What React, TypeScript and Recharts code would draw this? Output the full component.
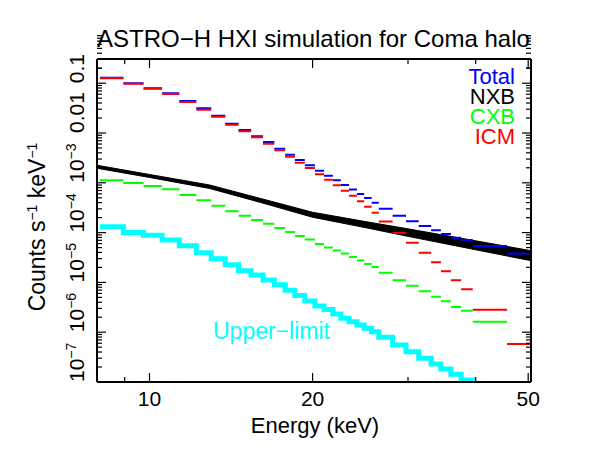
import { Area, ComposedChart, Customized, Line, XAxis, YAxis } from "recharts";

const FONT = "'Liberation Sans', Arial, Helvetica, sans-serif";

// bin edges (keV), shared by Total / ICM / CXB / upper-limit
const binEdges = [
  8.1, 8.95, 9.75, 10.55, 11.35, 12.2, 13.0, 13.8, 14.6, 15.4, 16.2, 17.0, 17.8, 18.55, 19.35, 20.2, 21.0,
  21.8, 22.55, 23.35, 24.15, 24.9, 25.7, 26.5, 28.1, 29.75, 31.4, 33.1, 34.5, 36.0, 37.6, 39.5, 45.7, 51,
];

const totalValues = [
  0.128, 0.1, 0.0795, 0.0625, 0.044, 0.0313, 0.0222, 0.0154, 0.0115, 0.0086, 0.0066, 0.00484, 0.00367,
  0.00287, 0.00224, 0.00175, 0.00139, 0.00112, 9.0e-4, 7.3e-4, 5.96e-4, 4.95e-4, 3.98e-4, 3.02e-4, 2.18e-4,
  1.69e-4, 1.36e-4, 1.11e-4, 9.4e-5, 7.9e-5, 7.1e-5, 5.4e-5, 3.8e-5,
];

const icmValues = [
  0.125, 0.0977, 0.0777, 0.0607, 0.0419, 0.0294, 0.0212, 0.0147, 0.0108, 0.0082, 0.0061, 0.0045, 0.00334,
  0.00254, 0.00198, 0.00148, 0.00115, 8.95e-4, 6.93e-4, 5.51e-4, 4.25e-4, 3.3e-4, 2.51e-4, 1.67e-4, 9.9e-5,
  6.27e-5, 3.94e-5, 2.55e-5, 1.67e-5, 1.1e-5, 7.26e-6, 2.83e-6, 5.8e-7,
];

const cxbValues = [
  1.12e-3, 9.9e-4, 8.63e-4, 7.41e-4, 5.69e-4, 4.45e-4, 3.47e-4, 2.68e-4, 2.18e-4, 1.79e-4, 1.5e-4, 1.24e-4,
  1.03e-4, 8.55e-5, 7.27e-5, 5.9e-5, 5.02e-5, 4.37e-5, 3.8e-5, 3.24e-5, 2.75e-5, 2.34e-5, 2.04e-5, 1.57e-5,
  1.1e-5, 8.55e-6, 6.65e-6, 5.16e-6, 4.19e-6, 3.21e-6, 2.7e-6, 1.62e-6,
];

const upperValues = [
  1.31e-4, 1.01e-4, 8.83e-5, 7.1e-5, 5.46e-5, 3.94e-5, 2.99e-5, 2.26e-5, 1.72e-5, 1.41e-5, 1.12e-5, 9.0e-6,
  6.93e-6, 5.46e-6, 4.24e-6, 3.36e-6, 2.86e-6, 2.32e-6, 1.9e-6, 1.63e-6, 1.4e-6, 1.2e-6, 1.02e-6, 7.91e-7,
  5.53e-7, 4.06e-7, 2.99e-7, 2.3e-7, 1.82e-7, 1.43e-7, 1.1e-7, 6e-8,
];

// NXB drawn as a band (thickness = spread of the model)
const nxbEnergy = [8.0, 10, 12.9, 16, 20, 25, 30, 40, 50.6];
const nxbLow = [1.96e-3, 1.28e-3, 7.71e-4, 4.05e-4, 2.03e-4, 1.26e-4, 8.4e-5, 4.52e-5, 2.73e-5];
const nxbHigh = [2.25e-3, 1.47e-3, 9.06e-4, 4.87e-4, 2.56e-4, 1.67e-4, 1.19e-4, 6.84e-5, 4.33e-5];

const xTicks = [9, 10, 20, 30, 40, 50];
const xLabelled = [10, 20, 50];
const yDecades = [-7, -6, -5, -4, -3, -2, -1];
const yTicks = yDecades
  .flatMap((n) => [1, 2, 3, 4, 5, 6, 7, 8, 9].map((k) => k * Math.pow(10, n)))
  .concat([0.2]);

const legend = [
  { name: "Total", color: "#0000ff" },
  { name: "NXB", color: "#000000" },
  { name: "CXB", color: "#00ff00" },
  { name: "ICM", color: "#ff0000" },
];

const binSegments = (values: number[]) =>
  values.flatMap((v, i) => [
    { x: binEdges[i], y: v },
    { x: binEdges[i + 1], y: v },
    { x: binEdges[i + 1], y: null },
  ]);

const upperStep = upperValues
  .map((v, i) => ({ x: binEdges[i], y: v }))
  .concat([{ x: binEdges[upperValues.length], y: upperValues[upperValues.length - 1] }]);

const nxbBand = nxbEnergy.map((e, i) => ({ x: e, band: [nxbLow[i], nxbHigh[i]] }));

const isDecade = (v: number) => Math.abs(Math.log10(v) - Math.round(Math.log10(v))) < 1e-6;

const tickText = { fontFamily: FONT, fontSize: 21, fill: "#000" };

function BottomTick({ x, y, payload }: any) {
  const major = xLabelled.includes(payload.value);
  return (
    <g>
      <line x1={x} x2={x} y1={y} y2={y - (major ? 9 : 5)} stroke="#000" strokeWidth={1.2} />
      {major && (
        <text x={x} y={y + 24} textAnchor="middle" {...tickText}>
          {payload.value}
        </text>
      )}
    </g>
  );
}

function TopTick({ x, y, payload }: any) {
  const major = xLabelled.includes(payload.value);
  return <line x1={x} x2={x} y1={y} y2={y + (major ? 9 : 5)} stroke="#000" strokeWidth={1.2} />;
}

function yLabel(v: number) {
  const n = Math.round(Math.log10(v));
  if (n === -1) return <tspan>0.1</tspan>;
  if (n === -2) return <tspan>0.01</tspan>;
  return (
    <>
      <tspan>10</tspan>
      <tspan dy={-8} fontSize={14}>
        {"\u2212" + Math.abs(n)}
      </tspan>
    </>
  );
}

function LeftTick({ x, y, payload }: any) {
  const major = isDecade(payload.value);
  const lx = x - 13;
  return (
    <g>
      <line x1={x} x2={x + (major ? 9 : 5)} y1={y} y2={y} stroke="#000" strokeWidth={1.2} />
      {major && (
        <text x={lx} y={y} transform={`rotate(-90, ${lx}, ${y})`} textAnchor="start" {...tickText}>
          {yLabel(payload.value)}
        </text>
      )}
    </g>
  );
}

function RightTick({ x, y, payload }: any) {
  const major = isDecade(payload.value);
  return <line x1={x} x2={x - (major ? 9 : 5)} y1={y} y2={y} stroke="#000" strokeWidth={1.2} />;
}

function Texts() {
  return (
    <g fontFamily={FONT}>
      <text x={97} y={47} fontSize={24} fill="#000">
        ASTRO−H HXI simulation for Coma halo
      </text>
      {legend.map((l, i) => (
        <text key={l.name} x={515} y={83.5 + i * 20.3} fontSize={22} fill={l.color} textAnchor="end">
          {l.name}
        </text>
      ))}
      <text x={213} y={339} fontSize={23} fill="#00ffff">
        Upper−limit
      </text>
      <text x={315} y={433} fontSize={22} fill="#000" textAnchor="middle">
        Energy (keV)
      </text>
      <text x={45} y={227} fontSize={23} fill="#000" textAnchor="middle" transform="rotate(-90, 45, 227)">
        <tspan>Counts s</tspan>
        <tspan dy={-8} fontSize={14}>−1</tspan>
        <tspan dy={8}> keV</tspan>
        <tspan dy={-8} fontSize={14}>−1</tspan>
      </text>
    </g>
  );
}

const axisLine = { stroke: "#000", strokeWidth: 2 };

export default function App() {
  return (
    <div style={{ position: "fixed", left: 0, top: 0, width: 599, height: 463, background: "#fff" }}>
      <ComposedChart width={599} height={463} margin={{ top: 58, left: 96, right: 67, bottom: 80 }}>
        <XAxis
          xAxisId="b"
          dataKey="x"
          type="number"
          scale="log"
          domain={[8, 50.6]}
          allowDataOverflow
          ticks={xTicks}
          interval={0}
          height={1}
          tickSize={0}
          tickMargin={0}
          tickLine={false}
          axisLine={axisLine}
          tick={(p: any) => <BottomTick {...p} />}
        />
        <XAxis
          xAxisId="t"
          orientation="top"
          dataKey="x"
          type="number"
          scale="log"
          domain={[8, 50.6]}
          allowDataOverflow
          ticks={xTicks}
          interval={0}
          height={1}
          tickSize={0}
          tickMargin={0}
          tickLine={false}
          axisLine={axisLine}
          tick={(p: any) => <TopTick {...p} />}
        />
        <YAxis
          yAxisId="l"
          type="number"
          scale="log"
          domain={[1e-7, 0.306]}
          allowDataOverflow
          ticks={yTicks}
          interval={0}
          width={1}
          tickSize={0}
          tickMargin={0}
          tickLine={false}
          axisLine={axisLine}
          tick={(p: any) => <LeftTick {...p} />}
        />
        <YAxis
          yAxisId="r"
          orientation="right"
          type="number"
          scale="log"
          domain={[1e-7, 0.306]}
          allowDataOverflow
          ticks={yTicks}
          interval={0}
          width={1}
          tickSize={0}
          tickMargin={0}
          tickLine={false}
          axisLine={axisLine}
          tick={(p: any) => <RightTick {...p} />}
        />
        <Line
          xAxisId="b"
          yAxisId="l"
          data={binSegments(totalValues)}
          dataKey="y"
          stroke="#0000ff"
          strokeWidth={2}
          dot={false}
          activeDot={false}
          connectNulls={false}
          isAnimationActive={false}
        />
        <Area
          xAxisId="b"
          yAxisId="l"
          data={nxbBand}
          dataKey="band"
          type="linear"
          stroke="#000"
          strokeWidth={1}
          fill="#000"
          fillOpacity={1}
          dot={false}
          activeDot={false}
          isAnimationActive={false}
        />
        <Line
          xAxisId="b"
          yAxisId="l"
          data={binSegments(icmValues)}
          dataKey="y"
          stroke="#ff0000"
          strokeWidth={2}
          dot={false}
          activeDot={false}
          connectNulls={false}
          isAnimationActive={false}
        />
        <Line
          xAxisId="b"
          yAxisId="l"
          data={binSegments(cxbValues)}
          dataKey="y"
          stroke="#00ff00"
          strokeWidth={2}
          dot={false}
          activeDot={false}
          connectNulls={false}
          isAnimationActive={false}
        />
        <Line
          xAxisId="b"
          yAxisId="l"
          data={upperStep}
          dataKey="y"
          type="stepAfter"
          stroke="#00ffff"
          strokeWidth={5}
          dot={false}
          activeDot={false}
          isAnimationActive={false}
        />
        <Customized component={<Texts />} />
      </ComposedChart>
    </div>
  );
}
